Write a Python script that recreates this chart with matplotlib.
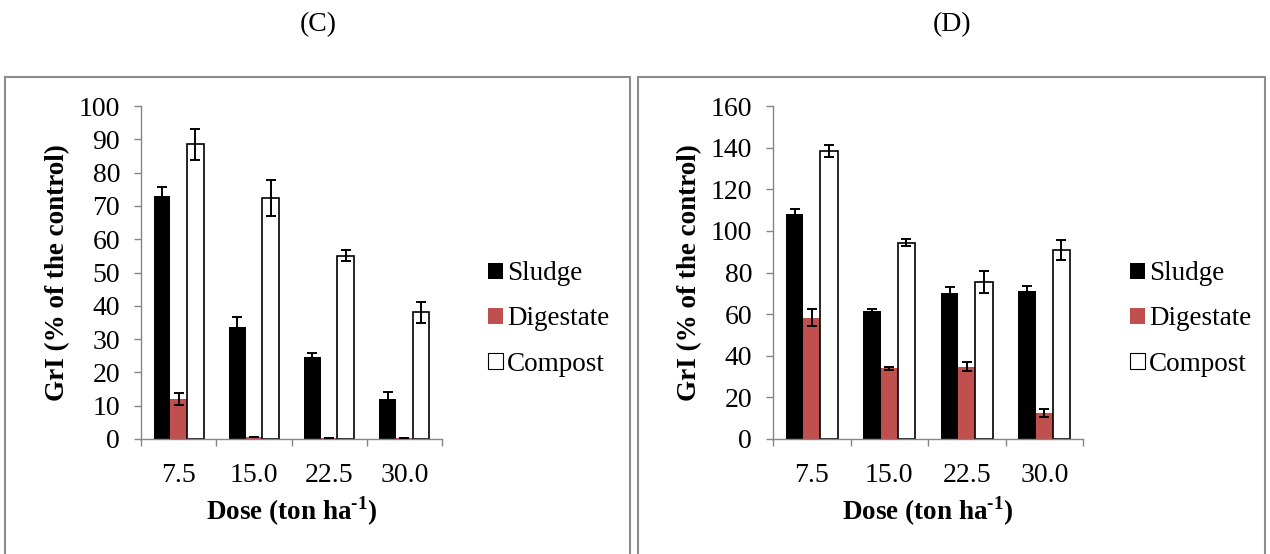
import matplotlib
matplotlib.use("Agg")
import matplotlib.pyplot as plt
import matplotlib.patches as patches
import numpy as np

plt.rcParams["font.family"] = ["Liberation Serif", "DejaVu Serif"]
plt.rcParams["mathtext.fontset"] = "custom"
plt.rcParams["mathtext.rm"] = "Liberation Serif"
plt.rcParams["mathtext.bf"] = "Liberation Serif:bold"

doses = ["7.5", "15.0", "22.5", "30.0"]
series_names = ["Sludge", "Digestate", "Compost"]

# panel C
sludge_c = [73.0, 33.6, 24.5, 12.0]
sludge_c_err = [2.7, 3.0, 1.3, 2.2]
digestate_c = [12.0, 0.5, 0.3, 0.3]
digestate_c_err = [1.8, 0.0, 0.0, 0.0]
compost_c = [88.5, 72.4, 55.1, 38.0]
compost_c_err = [4.7, 5.4, 1.7, 3.2]

# panel D
sludge_d = [108.2, 61.3, 70.0, 71.0]
sludge_d_err = [2.4, 1.4, 3.2, 2.7]
digestate_d = [58.3, 34.0, 34.8, 12.5]
digestate_d_err = [4.1, 0.7, 2.0, 1.7]
compost_d = [138.3, 94.3, 75.3, 91.0]
compost_d_err = [3.0, 1.8, 5.3, 4.8]

AXIS_GREY = "#868686"
RED = "#C0504D"
W = 1270
H = 554
FS = 19.5


def draw_panel(ax, data, errs, ymax, ystep):
    x = np.arange(len(doses))
    bw = 0.222
    styles = [
        dict(color="black", edgecolor="black", linewidth=0),
        dict(color=RED, edgecolor=RED, linewidth=0),
        dict(color="white", edgecolor="black", linewidth=1.2),
    ]
    for i, (vals, err, st) in enumerate(zip(data, errs, styles)):
        pos = x + (i - 1) * bw
        ax.bar(pos, vals, bw, zorder=2, **st)
        ax.errorbar(pos, vals, yerr=err, fmt="none", ecolor="black",
                    elinewidth=1.4, capsize=3.5, capthick=1.4, zorder=3)

    ax.set_xlim(-0.5, len(doses) - 0.5)
    ax.set_ylim(0, ymax)
    ax.set_yticks(np.arange(0, ymax + 1, ystep))
    ax.set_xticks(x)
    ax.set_xticklabels(doses)
    ax.set_xticks(np.arange(-0.5, len(doses)), minor=True)
    ax.tick_params(axis="x", which="major", length=0, pad=17, labelsize=20)
    ax.tick_params(axis="x", which="minor", length=5, width=1.0,
                   color=AXIS_GREY, direction="out")
    ax.tick_params(axis="y", length=5, width=1.0, color=AXIS_GREY,
                   pad=10, labelsize=20)
    for side in ["top", "right"]:
        ax.spines[side].set_visible(False)
    for side in ["left", "bottom"]:
        ax.spines[side].set_color(AXIS_GREY)
        ax.spines[side].set_linewidth(1.0)

    ax.set_ylabel("GrI (% of the control)", fontsize=FS, fontweight="bold",
                  labelpad=6)
    ax.set_xlabel("Dose (ton ha$^{\\mathbf{\u20101}}$)", fontsize=FS,
                  fontweight="bold", labelpad=5)


fig = plt.figure(figsize=(W / 100, H / 100), dpi=100)

# outer frames around each panel
for x0, x1 in [(5, 630), (638, 1265)]:
    rect = patches.Rectangle((x0 / W, -0.02), (x1 - x0) / W,
                             (H - 77) / H + 0.02,
                             transform=fig.transFigure, fill=False,
                             edgecolor="#8c8c8c", linewidth=1.5, clip_on=False)
    fig.patches.append(rect)

ax_c = fig.add_axes([141 / W, (H - 439) / H, 301 / W, 333 / H])
ax_d = fig.add_axes([773 / W, (H - 439) / H, 310 / W, 333 / H])

draw_panel(ax_c, [sludge_c, digestate_c, compost_c],
           [sludge_c_err, digestate_c_err, compost_c_err], 100, 10)
draw_panel(ax_d, [sludge_d, digestate_d, compost_d],
           [sludge_d_err, digestate_d_err, compost_d_err], 160, 20)

fig.text(318 / W, 1 - 25 / H, "(C)", fontsize=20, ha="center", va="center")
fig.text(952 / W, 1 - 25 / H, "(D)", fontsize=20, ha="center", va="center")

handles = [
    patches.Patch(facecolor="black", edgecolor="black", linewidth=0),
    patches.Patch(facecolor=RED, edgecolor=RED, linewidth=0),
    patches.Patch(facecolor="white", edgecolor="black", linewidth=0.8),
]
for ax, lx in [(ax_c, 488), (ax_d, 1130)]:
    fig.legend(handles, series_names, loc="center left",
               bbox_to_anchor=(lx / W, 1 - 319 / H), frameon=False,
               fontsize=FS, handlelength=0.55, handleheight=0.55,
               handletextpad=0.15, labelspacing=0.74, borderpad=0,
               borderaxespad=0)

fig.savefig("out.png", dpi=100)
